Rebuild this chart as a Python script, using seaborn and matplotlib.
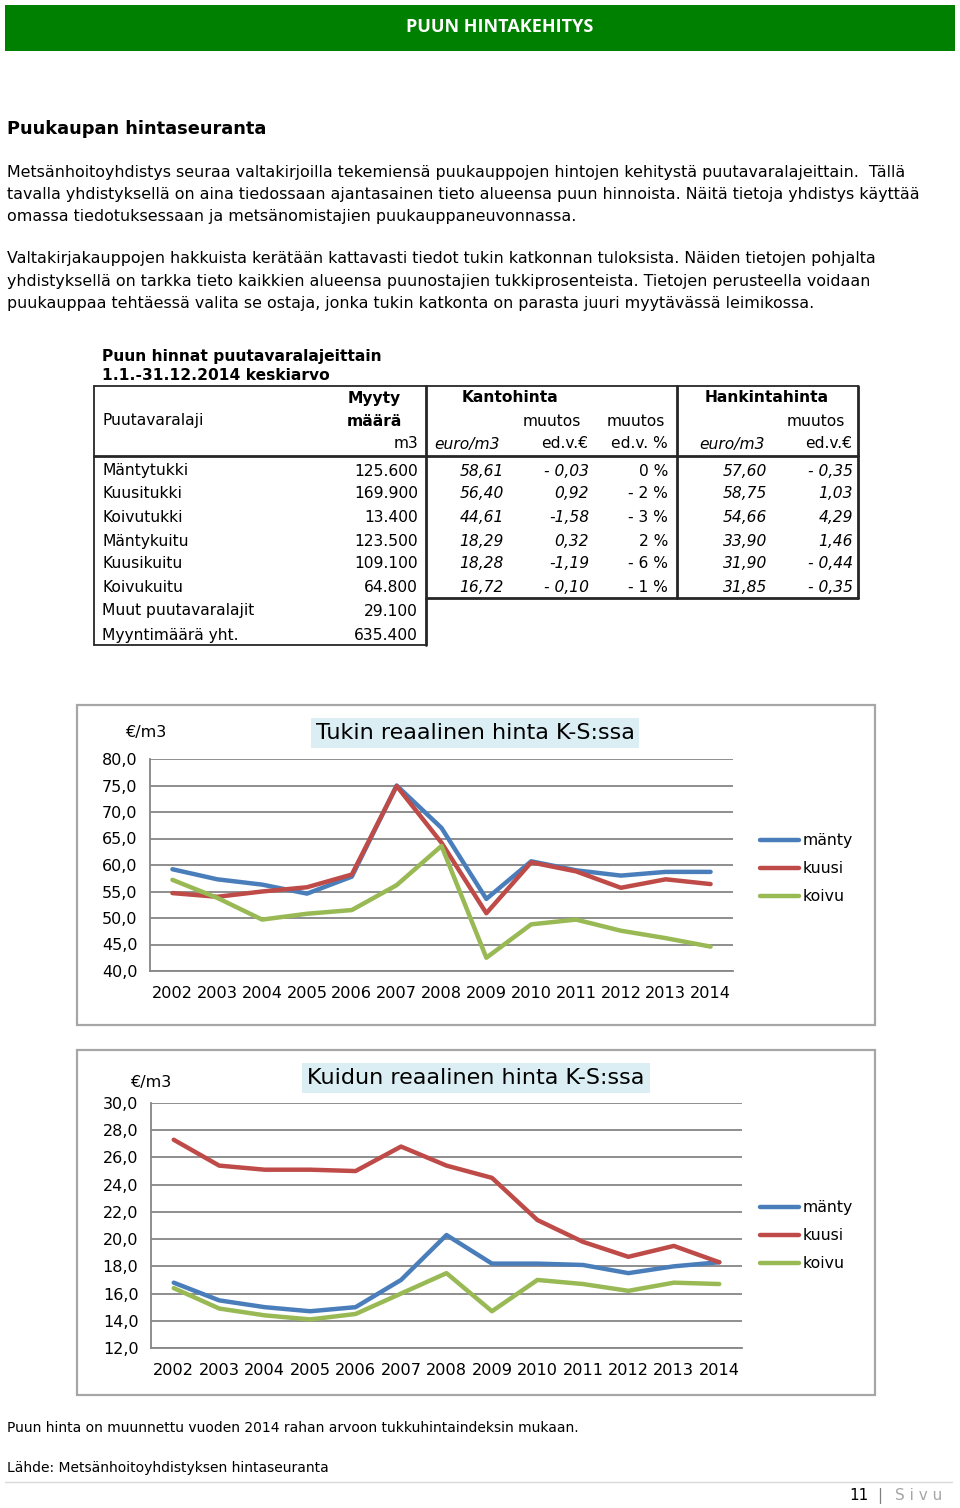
import matplotlib
matplotlib.use("Agg")
import matplotlib.pyplot as plt
from matplotlib.lines import Line2D
from matplotlib.patches import Rectangle
from matplotlib.ticker import FuncFormatter, FixedLocator
import seaborn as sns
import pandas as pd

# --- data -------------------------------------------------------------
vuodet = ["2002", "2003", "2004", "2005", "2006", "2007", "2008",
          "2009", "2010", "2011", "2012", "2013", "2014"]

tukki_manty = [59.2, 57.3, 56.3, 54.6, 57.8, 75.0, 67.0, 53.6, 60.7, 59.0, 58.0, 58.7, 58.7]
tukki_kuusi = [54.7, 54.0, 55.0, 55.8, 58.2, 74.9, 64.2, 50.9, 60.5, 58.8, 55.7, 57.3, 56.4]
tukki_koivu = [57.2, 53.8, 49.7, 50.8, 51.5, 56.2, 63.6, 42.5, 48.8, 49.7, 47.6, 46.2, 44.6]

kuitu_manty = [16.8, 15.5, 15.0, 14.7, 15.0, 17.0, 20.3, 18.2, 18.2, 18.1, 17.5, 18.0, 18.3]
kuitu_kuusi = [27.3, 25.4, 25.1, 25.1, 25.0, 26.8, 25.4, 24.5, 21.4, 19.8, 18.7, 19.5, 18.3]
kuitu_koivu = [16.4, 14.9, 14.4, 14.1, 14.5, 16.0, 17.5, 14.7, 17.0, 16.7, 16.2, 16.8, 16.7]

lajit = ["Mäntytukki", "Kuusitukki", "Koivutukki", "Mäntykuitu", "Kuusikuitu",
         "Koivukuitu", "Muut puutavaralajit", "Myyntimäärä yht."]
maara = ["125.600", "169.900", "13.400", "123.500", "109.100", "64.800", "29.100", "635.400"]
kanto = ["58,61", "56,40", "44,61", "18,29", "18,28", "16,72"]
kanto_muutos = ["- 0,03", "0,92", "-1,58", "0,32", "-1,19", "- 0,10"]
kanto_pros = ["0 %", "- 2 %", "- 3 %", "2 %", "- 6 %", "- 1 %"]
hankinta = ["57,60", "58,75", "54,66", "33,90", "31,90", "31,85"]
hankinta_muutos = ["- 0,35", "1,03", "4,29", "1,46", "- 0,44", "- 0,35"]

varit = {"mänty": "#4a7ebb", "kuusi": "#be4b48", "koivu": "#98b954"}

kappale1 = [
    "Metsänhoitoyhdistys seuraa valtakirjoilla tekemiensä puukauppojen hintojen kehitystä puutavaralajeittain.  Tällä",
    "tavalla yhdistyksellä on aina tiedossaan ajantasainen tieto alueensa puun hinnoista. Näitä tietoja yhdistys käyttää",
    "omassa tiedotuksessaan ja metsänomistajien puukauppaneuvonnassa.",
]
kappale2 = [
    "Valtakirjakauppojen hakkuista kerätään kattavasti tiedot tukin katkonnan tuloksista. Näiden tietojen pohjalta",
    "yhdistyksellä on tarkka tieto kaikkien alueensa puunostajien tukkiprosenteista. Tietojen perusteella voidaan",
    "puukauppaa tehtäessä valita se ostaja, jonka tukin katkonta on parasta juuri myytävässä leimikossa.",
]

# --- setup ------------------------------------------------------------
sns.set_style("white")
plt.rcParams["font.family"] = ["DejaVu Sans"]
plt.rcParams["text.color"] = "black"
plt.rcParams["xtick.color"] = "black"
plt.rcParams["ytick.color"] = "black"

W, H = 960, 1508
fig = plt.figure(figsize=(W / 100, H / 100), dpi=100)


def fx(x):
    return x / W


def fy(y):
    return 1 - y / H


def teksti(x, y, s, **kw):
    kw.setdefault("va", "center")
    fig.text(fx(x), fy(y), s, **kw)


def viiva(x1, y1, x2, y2, color="#262626", lw=1.3):
    fig.add_artist(Line2D([fx(x1), fx(x2)], [fy(y1), fy(y2)],
                          transform=fig.transFigure, color=color, lw=lw))


def laatikko(x1, y1, x2, y2, **kw):
    fig.add_artist(Rectangle((fx(x1), fy(y2)), fx(x2) - fx(x1), (y2 - y1) / H,
                             transform=fig.transFigure, **kw))


# header band
laatikko(5, 5, 955, 51, color="#008000", lw=0)
teksti(500, 27, "PUUN HINTAKEHITYS", ha="center", color="white",
       fontsize=13, fontweight="bold", family="Open Sans")

teksti(7, 129, "Puukaupan hintaseuranta", fontsize=12.8, fontweight="bold")

for i, rivi in enumerate(kappale1):
    teksti(7, 172 + i * 22, rivi, fontsize=11.4)
for i, rivi in enumerate(kappale2):
    teksti(7, 259 + i * 22.3, rivi, fontsize=11.4)

# --- table ------------------------------------------------------------
ts = 11.2
teksti(102, 356, "Puun hinnat puutavaralajeittain", fontsize=ts, fontweight="bold")
teksti(102, 376, "1.1.-31.12.2014 keskiarvo", fontsize=ts, fontweight="bold")

viiva(94, 386, 858, 386)
viiva(94, 456, 858, 456, lw=2)
viiva(426, 598, 858, 598, lw=2)
viiva(94, 645, 426, 645)
viiva(94, 386, 94, 645)
viiva(426, 386, 426, 645, lw=2)
viiva(677, 386, 677, 598, lw=2)
viiva(858, 386, 858, 598, lw=2)

teksti(374, 398, "Myyty", ha="center", fontsize=ts, fontweight="bold")
teksti(510, 398, "Kantohinta", ha="center", fontsize=ts, fontweight="bold")
teksti(767, 398, "Hankintahinta", ha="center", fontsize=ts, fontweight="bold")
teksti(102, 421, "Puutavaralaji", fontsize=ts)
teksti(374, 421, "määrä", ha="center", fontsize=ts, fontweight="bold")
teksti(581, 421, "muutos", ha="right", fontsize=ts)
teksti(665, 421, "muutos", ha="right", fontsize=ts)
teksti(845, 421, "muutos", ha="right", fontsize=ts)
teksti(418, 444, "m3", ha="right", fontsize=ts)
teksti(500, 444, "euro/m3", ha="right", fontsize=ts, style="italic")
teksti(588, 444, "ed.v.€", ha="right", fontsize=ts)
teksti(668, 444, "ed.v. %", ha="right", fontsize=ts)
teksti(765, 444, "euro/m3", ha="right", fontsize=ts, style="italic")
teksti(852, 444, "ed.v.€", ha="right", fontsize=ts)

rivi_y = [471, 494, 518, 541, 564, 587, 611, 635]
for i, (laji, m) in enumerate(zip(lajit, maara)):
    teksti(102, rivi_y[i], laji, fontsize=ts)
    teksti(418, rivi_y[i], m, ha="right", fontsize=ts)
for i in range(len(kanto)):
    y = rivi_y[i]
    teksti(504, y, kanto[i], ha="right", fontsize=ts, style="italic")
    teksti(589, y, kanto_muutos[i], ha="right", fontsize=ts, style="italic")
    teksti(668, y, kanto_pros[i], ha="right", fontsize=ts)
    teksti(767, y, hankinta[i], ha="right", fontsize=ts, style="italic")
    teksti(853, y, hankinta_muutos[i], ha="right", fontsize=ts, style="italic")


# --- charts -----------------------------------------------------------
def pitka(manty, kuusi, koivu):
    osat = []
    for nimi, arvot in [("mänty", manty), ("kuusi", kuusi), ("koivu", koivu)]:
        osat.append(pd.DataFrame({"vuosi": vuodet, "hinta": arvot, "laji": nimi}))
    return pd.concat(osat, ignore_index=True)


def kaavio(df, kehys, alue, ylim, ystep, otsikko, otsikko_xy, yksikko_xy, legend_xy):
    laatikko(*kehys, fill=False, edgecolor="#a6a6a6", lw=1.6)
    x1, y1, x2, y2 = alue
    ax = fig.add_axes([fx(x1), fy(y2), (x2 - x1) / W, (y2 - y1) / H])
    sns.lineplot(data=df, x="vuosi", y="hinta", hue="laji", palette=varit,
                 linewidth=3.2, ax=ax, sort=False)
    for ln in ax.lines:
        ln.set_solid_joinstyle("round")
    ax.set_xlim(-0.5, len(vuodet) - 0.5)
    ax.set_ylim(*ylim)
    yt = []
    v = ylim[0]
    while v <= ylim[1] + 1e-9:
        yt.append(v)
        v += ystep
    ax.set_yticks(yt)
    ax.yaxis.set_major_formatter(FuncFormatter(lambda v, p: f"{v:.1f}".replace(".", ",")))
    ax.xaxis.set_minor_locator(FixedLocator([i - 0.5 for i in range(len(vuodet) + 1)]))
    ax.grid(axis="y", color="#868686", lw=1.3)
    ax.grid(axis="x", visible=False)
    ax.set_axisbelow(True)
    for s in ["top", "right"]:
        ax.spines[s].set_visible(False)
    for s in ["left", "bottom"]:
        ax.spines[s].set_color("#868686")
        ax.spines[s].set_linewidth(1.3)
    ax.tick_params(axis="y", length=4, color="#868686", labelcolor="black",
                   width=1.2, pad=5, labelsize=11.5)
    ax.tick_params(axis="x", which="major", length=0, pad=11, labelsize=11.6,
                   labelcolor="black")
    ax.tick_params(axis="x", which="minor", length=4, color="#868686", width=1.2)
    ax.set_xlabel("")
    ax.set_ylabel("")
    sns.move_legend(ax, "upper left", bbox_to_anchor=(fx(legend_xy[0]), fy(legend_xy[1])),
                    bbox_transform=fig.transFigure, frameon=False, title=None,
                    fontsize=11.3, handlelength=2.5, handletextpad=0.2,
                    labelspacing=0.84, borderpad=0, borderaxespad=0,
                    labelcolor="black")
    teksti(otsikko_xy[0], otsikko_xy[1], otsikko, ha="center", fontsize=16,
           bbox=dict(boxstyle="square,pad=0.22", facecolor="#daeef3", edgecolor="none"))
    teksti(yksikko_xy[0], yksikko_xy[1], "€/m3", ha="center", fontsize=11.5)
    return ax


kaavio(pitka(tukki_manty, tukki_kuusi, tukki_koivu),
       (77, 705, 875, 1025), (150, 759, 733, 971), (40, 80), 5,
       "Tukin reaalinen hinta K-S:ssa", (475, 733), (146, 733), (760, 833))

kaavio(pitka(kuitu_manty, kuitu_kuusi, kuitu_koivu),
       (77, 1050, 875, 1395), (151, 1103, 742, 1348), (12, 30), 2,
       "Kuidun reaalinen hinta K-S:ssa", (476, 1078), (151, 1083), (760, 1200))

# --- footer -----------------------------------------------------------
teksti(7, 1428, "Puun hinta on muunnettu vuoden 2014 rahan arvoon tukkuhintaindeksin mukaan.",
       fontsize=10)
teksti(7, 1468, "Lähde: Metsänhoitoyhdistyksen hintaseuranta", fontsize=10)
viiva(5, 1482, 952, 1482, color="#d9d9d9", lw=1)
teksti(869, 1496, "11", ha="right", fontsize=11)
teksti(880, 1496, "|", ha="center", fontsize=11, color="#7f7f7f")
teksti(942, 1496, "S i v u", ha="right", fontsize=11, color="#a6a6a6")

fig.savefig("out.png", dpi=100)
